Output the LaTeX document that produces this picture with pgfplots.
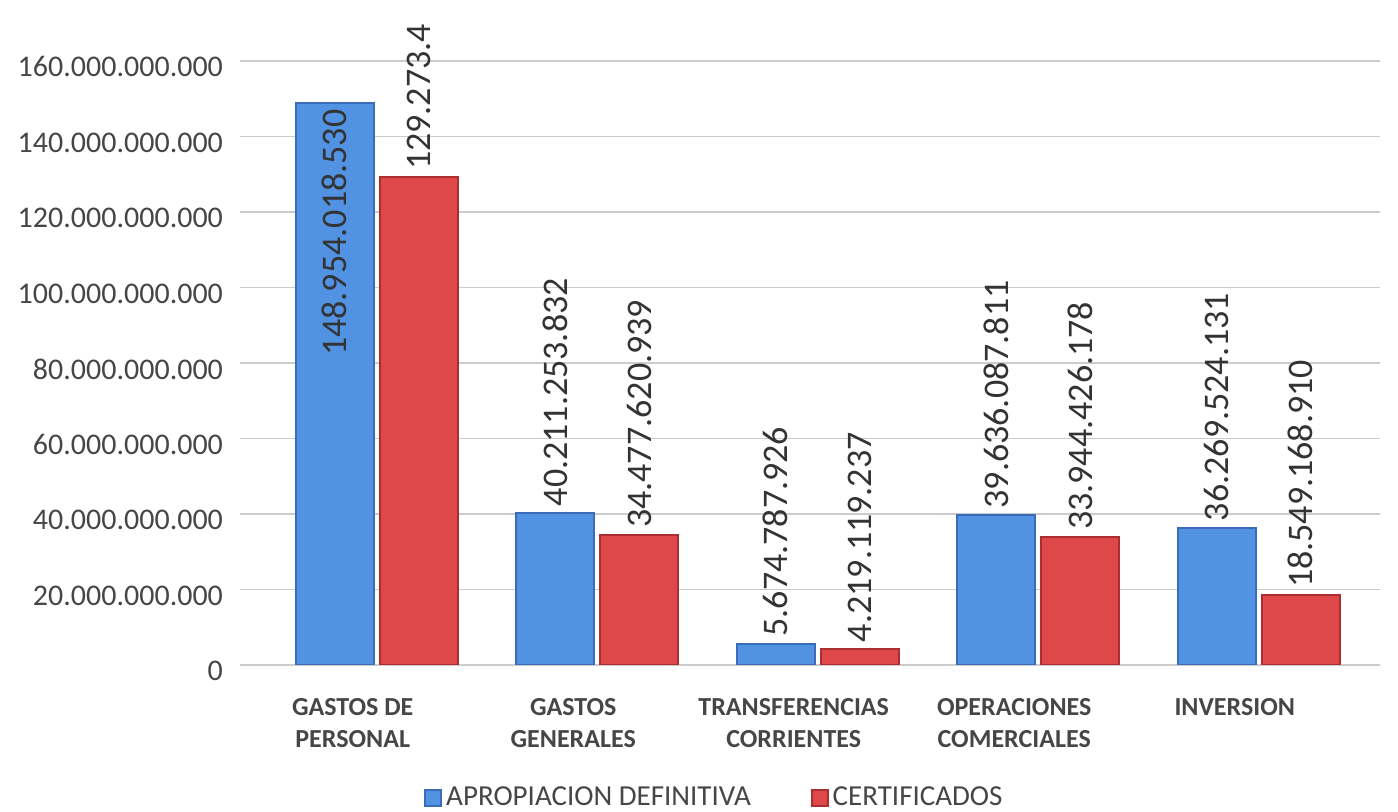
\documentclass[border=0pt]{standalone}
\usepackage{pgfplots}
\pgfplotsset{compat=1.18}
\usepackage{pgfplotstable}
\usepackage{fontspec}
\setmainfont{Carlito}

\definecolor{azul}{RGB}{82,146,226}
\definecolor{azulD}{RGB}{58,108,186}
\definecolor{rojo}{RGB}{222,72,72}
\definecolor{rojoD}{RGB}{170,46,50}
\definecolor{txt}{RGB}{70,70,70}

\pgfplotstableread{
x y lab
0 148954018530 148.954.018.530
1 40211253832 40.211.253.832
2 5674787926 5.674.787.926
3 39636087811 39.636.087.811
4 36269524131 36.269.524.131
}\apropiacion

% the first label is cut in the source at "129.273.4"
\pgfplotstableread{
x y lab
0 129273400000 129.273.4
1 34477620939 34.477.620.939
2 4219119237 4.219.119.237
3 33944426178 33.944.426.178
4 18549168910 18.549.168.910
}\certificados

\begin{document}
\begin{tikzpicture}
\useasboundingbox (-120pt,-73.5pt) rectangle (579pt,332.5pt);
\begin{axis}[
    scale only axis,
    width=570pt, height=302pt,
    xmin=-0.62, xmax=4.55,
    ymin=0, ymax=160e9,
    ybar=3pt, bar width=39pt,
    axis line style={draw=none},
    tick style={draw=none},
    ymajorgrids,
    grid style={gray!40, line width=0.6pt},
    scaled y ticks=false,
    ytick={0,2e10,4e10,6e10,8e10,1e11,1.2e11,1.4e11,1.6e11},
    yticklabels={0,20.000.000.000,40.000.000.000,60.000.000.000,80.000.000.000,100.000.000.000,120.000.000.000,140.000.000.000,160.000.000.000},
    yticklabel style={font=\fontsize{15}{17}\selectfont, text=txt, xshift=-5pt, yshift=-3pt},
    xtick={0,1,2,3,4},
    xticklabels={{GASTOS DE\\PERSONAL},{GASTOS\\GENERALES},{TRANSFERENCIAS\\CORRIENTES},{OPERACIONES\\COMERCIALES},{INVERSION}},
    xticklabel style={align=center, anchor=north, font=\bfseries\fontsize{13}{16}\selectfont, text=txt, xshift=-12pt, yshift=-9pt},
    point meta=explicit symbolic,
    nodes near coords,
    nodes near coords style={rotate=90, anchor=west, font=\fontsize{18}{20}\selectfont, text=black!80, inner sep=3pt},
    legend style={at={(0.417,-0.22)}, anchor=center, draw=none, fill=none,
        legend columns=2, font=\fontsize{14.5}{16}\selectfont, text=txt,
        /tikz/every even column/.append style={column sep=28pt}},
    legend image code/.code={\fill[#1] (0pt,-4pt) rectangle (8pt,4pt);},
]
% the tallest label sits inside the bar
\addplot[fill=azul, draw=azulD, line width=1pt,
    visualization depends on={value \coordindex \as \ci},
    every node near coord/.append code={\ifdim\ci pt<0.5pt \pgfkeysalso{anchor=east}\fi}]
    table[x=x, y=y, meta=lab] {\apropiacion};
\addplot[fill=rojo, draw=rojoD, line width=1pt]
    table[x=x, y=y, meta=lab] {\certificados};
\legend{APROPIACION DEFINITIVA, CERTIFICADOS}
\end{axis}
\end{tikzpicture}
\end{document}
